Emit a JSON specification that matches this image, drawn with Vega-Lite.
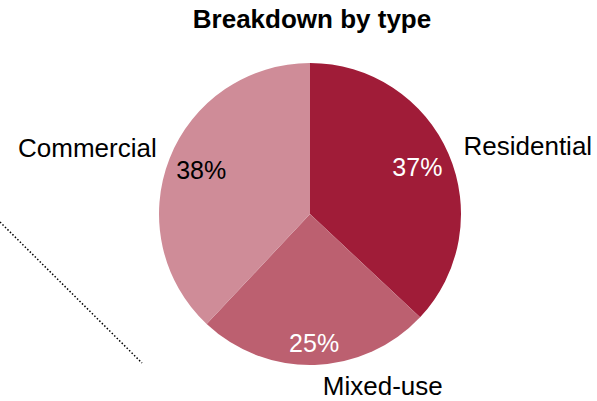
{
  "$schema": "https://vega.github.io/schema/vega-lite/v6.json",
  "autosize": {"type": "none"},
  "width": 400,
  "height": 302,
  "padding": {"left": 110, "top": 63, "right": 87, "bottom": 36},
  "background": "white",
  "config": {"view": {"stroke": null}, "font": "Liberation Sans"},
  "title": {"text": "Breakdown by type", "fontSize": 26, "fontWeight": "bold", "font": "Liberation Sans", "color": "black", "anchor": "middle", "offset": 30, "dx": 2},
  "data": {"values": [
    {"type": "Residential", "share": 0.37, "idx": 1},
    {"type": "Mixed-use", "share": 0.25, "idx": 2},
    {"type": "Commercial", "share": 0.38, "idx": 3}
  ]},
  "encoding": {
    "theta": {"field": "share", "type": "quantitative", "stack": true},
    "order": {"field": "idx", "type": "quantitative", "sort": "ascending"}
  },
  "layer": [
    {
      "mark": {"type": "arc", "outerRadius": 151},
      "encoding": {
        "color": {"field": "type", "type": "nominal", "legend": null,
          "scale": {"domain": ["Residential", "Mixed-use", "Commercial"], "range": ["#A01C38", "#BC6070", "#CF8C98"]}}
      }
    },
    {
      "mark": {"type": "text", "radius": 117, "fontSize": 25, "baseline": "middle", "align": "center"},
      "encoding": {
        "text": {"condition": {"test": "datum.type !== 'Mixed-use'", "field": "share", "format": ".0%"}, "value": ""},
        "color": {"condition": {"test": "datum.type === 'Commercial'", "value": "black"}, "value": "white"}
      }
    },
    {
      "mark": {"type": "text", "radius": 130, "fontSize": 25, "baseline": "middle", "align": "center", "color": "white"},
      "encoding": {
        "text": {"condition": {"test": "datum.type === 'Mixed-use'", "field": "share", "format": ".0%"}, "value": ""}
      }
    },
    {
      "mark": {"type": "text", "radius": 152, "fontSize": 26, "baseline": "middle", "align": "left", "dx": 14, "dy": -7, "color": "black"},
      "encoding": {
        "text": {"condition": {"test": "datum.type === 'Residential'", "field": "type"}, "value": ""}
      }
    },
    {
      "mark": {"type": "text", "radius": 152, "fontSize": 26, "baseline": "middle", "align": "right", "dx": -12, "dy": -9, "color": "black"},
      "encoding": {
        "text": {"condition": {"test": "datum.type === 'Commercial'", "field": "type"}, "value": ""}
      }
    },
    {
      "mark": {"type": "text", "radius": 152, "fontSize": 26, "baseline": "middle", "align": "left", "dx": 8, "dy": 21, "color": "black"},
      "encoding": {
        "text": {"condition": {"test": "datum.type === 'Mixed-use'", "field": "type"}, "value": ""}
      }
    },
    {
      "data": {"values": [{"x": -110, "y": 159, "x2": 32, "y2": 300}]},
      "mark": {"type": "rule", "color": "black", "strokeWidth": 1.5, "strokeDash": [1.5, 2]},
      "encoding": {
        "theta": null,
        "order": null,
        "x": {"field": "x", "type": "quantitative", "axis": null, "scale": {"domain": [0, 400], "zero": false, "nice": false}},
        "x2": {"field": "x2"},
        "y": {"field": "y", "type": "quantitative", "axis": null, "scale": {"domain": [0, 302], "reverse": true, "zero": false, "nice": false}},
        "y2": {"field": "y2"}
      }
    }
  ]
}
